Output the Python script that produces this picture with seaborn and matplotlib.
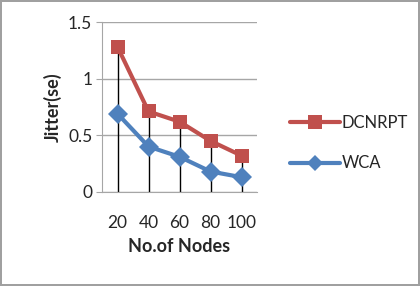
import numpy as np
import pandas as pd
import seaborn as sns
import matplotlib.pyplot as plt
from matplotlib.lines import Line2D

# Дані з графіка
nodes = ['20', '40', '60', '80', '100']
dcnrpt = [1.28, 0.71, 0.62, 0.45, 0.32]
wca = [0.69, 0.40, 0.31, 0.18, 0.13]

sns.set_style("white")
plt.rcParams['font.family'] = ['Lato', 'DejaVu Sans']

red = '#C0504D'
blue = '#4F81BD'

pos = np.arange(len(nodes))
df = pd.DataFrame({
    'pos': np.concatenate([pos, pos]),
    'value': dcnrpt + wca,
    'series': ['DCNRPT'] * len(nodes) + ['WCA'] * len(nodes),
})

fig = plt.figure(figsize=(4.2, 2.86), dpi=100)
fig.patch.set_edgecolor('#a0a0a0')
fig.patch.set_linewidth(1.5)
ax = fig.add_axes([0.243, 0.329, 0.369, 0.594])

# Вертикальні лінії від найвищої точки до осі
top = np.maximum(dcnrpt, wca)
ax.vlines(pos, 0, top, color='black', linewidth=1, zorder=1)

sns.lineplot(data=df, x='pos', y='value', hue='series', style='series',
             palette={'DCNRPT': red, 'WCA': blue},
             markers={'DCNRPT': 's', 'WCA': 'D'}, dashes=False,
             linewidth=3, markersize=10, markeredgewidth=0, ax=ax, zorder=3,
             legend=False)

ax.set_xlim(-0.5, len(nodes) - 0.5)
ax.set_ylim(0, 1.5)
ax.set_yticks([0, 0.5, 1, 1.5])
ax.set_yticklabels(['0', '0.5', '1', '1.5'])
ax.set_xticks(pos)
ax.set_xticklabels(nodes)
ax.yaxis.grid(True, color='#a6a6a6', linewidth=1)
ax.set_axisbelow(True)
for s in ['top', 'right']:
    ax.spines[s].set_visible(False)
ax.spines['left'].set_color('#a6a6a6')
ax.spines['bottom'].set_color('#a6a6a6')
ax.tick_params(axis='y', left=True, length=4, color='#a6a6a6', pad=3, labelsize=12.5)
ax.tick_params(axis='x', bottom=False, pad=13, labelsize=12.5)

ax.set_xlabel('No.of Nodes', fontsize=13, fontweight='bold')
ax.set_ylabel('Jitter(se)', fontsize=13, fontweight='bold')
ax.xaxis.set_label_coords(0.5, -0.27)
ax.yaxis.set_label_coords(-0.26, 0.5)

handles = [Line2D([], [], color=red, marker='s', linewidth=3, markersize=10, markeredgewidth=0),
           Line2D([], [], color=blue, marker='D', linewidth=3, markersize=8, markeredgewidth=0)]
fig.legend(handles, ['DCNRPT', 'WCA'], loc='center left', bbox_to_anchor=(0.655, 0.5),
           frameon=False, fontsize=12, handlelength=3.0, handletextpad=0.1,
           labelspacing=1.5)

fig.savefig('out.png', dpi=100)
